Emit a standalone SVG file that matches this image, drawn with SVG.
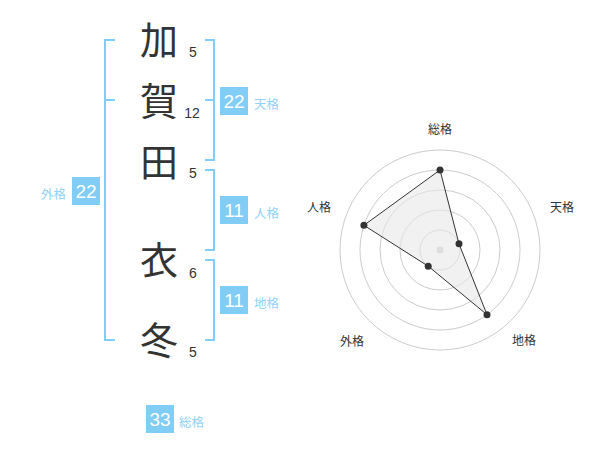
<svg xmlns="http://www.w3.org/2000/svg" width="600" height="470" viewBox="0 0 600 470">
<style>
.ch{font-family:"Noto Sans CJK JP","Noto Sans",sans-serif;font-size:38px;fill:#333;text-anchor:middle}
.st{font-family:"Liberation Sans",Arial,sans-serif;font-size:14px;fill:#333;text-anchor:middle}
.br{fill:none;stroke:#81cdf6;stroke-width:2}
.box{fill:#81cdf6}
.bn{font-family:"Liberation Sans",Arial,sans-serif;font-size:19px;fill:#fff;text-anchor:middle}
.bl{font-family:"Noto Sans CJK JP","Noto Sans",sans-serif;font-size:12.5px;fill:#8fd2f6}
.rl{font-family:"Noto Sans CJK JP","Noto Sans",sans-serif;font-size:12px;fill:#333;text-anchor:middle}
.ring{fill:none;stroke:#cccccc;stroke-width:1}
.pt{fill:#333}
</style>
<rect width="600" height="470" fill="#fff"/>
<g id="name">
<text class="ch" x="159" y="54">加</text>
<text class="ch" x="159" y="115">賀</text>
<text class="ch" x="159" y="176">田</text>
<text class="ch" x="159" y="274">衣</text>
<text class="ch" x="159" y="354">冬</text>
<text class="st" x="193" y="57">5</text>
<text class="st" x="192" y="118">12</text>
<text class="st" x="193" y="178">5</text>
<text class="st" x="193" y="278">6</text>
<text class="st" x="193" y="357">5</text>
</g>
<g id="connectors">
<path class="br" d="M115,40 H105 V340 H115 M105,100 H115"/>
<path class="br" d="M205,40 H214 V160 H205 M205,100 H214"/>
<path class="br" d="M205,170 H214 V250 H205"/>
<path class="br" d="M205,260 H214 V340 H205"/>
</g>
<g id="gaikaku">
<rect class="box" x="72" y="177" width="28" height="28"/>
<text class="bn" x="86" y="198">22</text>
<text class="bl" x="66" y="199" text-anchor="end">外格</text>
</g>
<g id="tenkaku">
<rect class="box" x="220" y="87" width="28" height="28"/>
<text class="bn" x="234" y="108">22</text>
<text class="bl" x="254" y="109">天格</text>
</g>
<g id="jinkaku">
<rect class="box" x="220" y="196" width="28" height="28"/>
<text class="bn" x="234" y="217">11</text>
<text class="bl" x="254" y="218">人格</text>
</g>
<g id="chikaku">
<rect class="box" x="220" y="286" width="28" height="28"/>
<text class="bn" x="234" y="307">11</text>
<text class="bl" x="254" y="308">地格</text>
</g>
<g id="soukaku">
<rect class="box" x="146" y="405" width="28" height="28"/>
<text class="bn" x="160" y="426">33</text>
<text class="bl" x="179" y="427">総格</text>
</g>
<g id="radar">
<circle class="ring" cx="440" cy="250" r="20"/>
<circle class="ring" cx="440" cy="250" r="40"/>
<circle class="ring" cx="440" cy="250" r="60"/>
<circle class="ring" cx="440" cy="250" r="80"/>
<circle class="ring" cx="440" cy="250" r="100"/>
<circle cx="440" cy="250" r="3.5" fill="#cccccc"/>
<polygon points="440,170 459,243.8 487,314.7 428.2,266.2 363.9,225.3" fill="#e8e8e8" fill-opacity="0.6" stroke="#333" stroke-width="1"/>
<circle class="pt" cx="440" cy="170" r="3.5"/>
<circle class="pt" cx="459" cy="243.8" r="3.5"/>
<circle class="pt" cx="487" cy="314.7" r="3.5"/>
<circle class="pt" cx="428.2" cy="266.2" r="3.5"/>
<circle class="pt" cx="363.9" cy="225.3" r="3.5"/>
<text class="rl" x="440" y="134">総格</text>
<text class="rl" x="562" y="212">天格</text>
<text class="rl" x="524" y="345">地格</text>
<text class="rl" x="352" y="346">外格</text>
<text class="rl" x="319" y="212">人格</text>
</g>
</svg>
